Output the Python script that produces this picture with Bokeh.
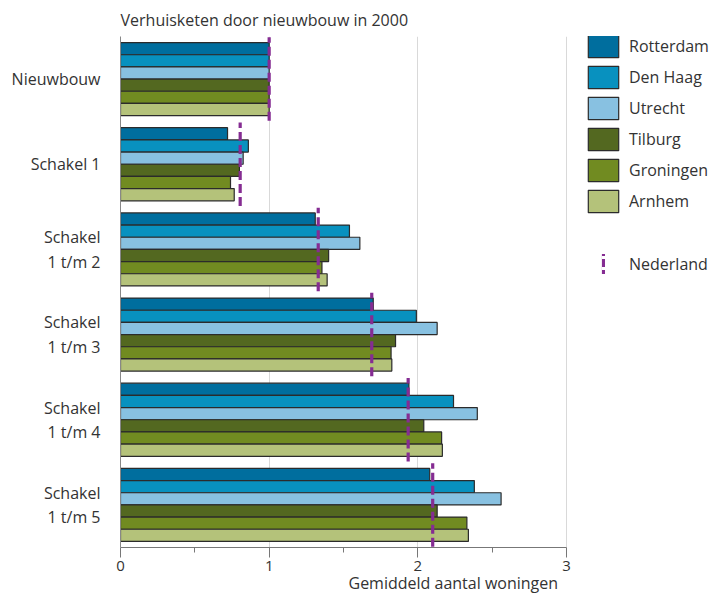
from bokeh.plotting import figure
from bokeh.models import (FactorRange, Range1d, FixedTicker, Legend, LegendItem,
                          Title, ColumnDataSource)
from bokeh.transform import dodge
from bokeh.embed import file_html
from bokeh.resources import INLINE

# ---- data ----
categories = ["Nieuwbouw", "Schakel 1", "Schakel\n1 t/m 2", "Schakel\n1 t/m 3",
              "Schakel\n1 t/m 4", "Schakel\n1 t/m 5"]
cities = ["Rotterdam", "Den Haag", "Utrecht", "Tilburg", "Groningen", "Arnhem"]
rotterdam = [1.0, 0.72, 1.31, 1.70, 1.94, 2.08]
den_haag = [1.0, 0.86, 1.54, 1.99, 2.24, 2.38]
utrecht = [1.0, 0.825, 1.61, 2.13, 2.40, 2.56]
tilburg = [1.0, 0.80, 1.40, 1.85, 2.04, 2.13]
groningen = [1.0, 0.74, 1.355, 1.82, 2.16, 2.33]
arnhem = [1.0, 0.765, 1.39, 1.825, 2.165, 2.34]
nederland = [1.0, 0.805, 1.33, 1.69, 1.935, 2.10]
x_ticks = [0, 1, 2, 3]
x_minor_ticks = [0.5, 1.5, 2.5]
x_max = 3

title_text = "Verhuisketen door nieuwbouw in 2000"
x_label = "Gemiddeld aantal woningen"
ned_label = "Nederland"

colors = ["#006E9E", "#0891BF", "#88C1E1", "#536820", "#718B21", "#B4C27A"]
ned_color = "#852C92"
text_color = "#333333"
FONT = "Open Sans"

# ---- layout constants (pixels) ----
W, H = 712, 596
LEFT, TOP, AXIS_W, FRAME_H = 120, 34, 446, 513
BOTTOM = H - TOP - FRAME_H
# the frame extends right past x=3 so the legend lives inside it
x_end = x_max * (W - LEFT) / AXIS_W

series = [rotterdam, den_haag, utrecht, tilburg, groningen, arnhem]
data = {"cat": categories, "ned": nederland}
keys = ["c%d" % i for i in range(len(cities))]
for k, s in zip(keys, series):
    data[k] = s
source = ColumnDataSource(data)

p = figure(width=W, height=H, output_backend="svg", toolbar_location=None,
           y_range=FactorRange(factors=list(reversed(categories)), range_padding=0),
           x_range=Range1d(0, x_end),
           min_border_left=LEFT, min_border_right=0, min_border_top=TOP,
           min_border_bottom=BOTTOM)
p.outline_line_color = None
p.background_fill_color = "white"

h = 0.143
offsets = [2.5 * h, 1.5 * h, 0.5 * h, -0.5 * h, -1.5 * h, -2.5 * h]
renderers = []
for k, c, off in zip(keys, colors, offsets):
    r = p.hbar(y=dodge("cat", off, range=p.y_range), left=0, right=k, height=h,
               source=source, fill_color=c, line_color="#2b2b2b", line_width=1.2)
    renderers.append(r)

p.segment(x0="ned", x1="ned", y0=dodge("cat", -0.49, range=p.y_range),
          y1=dodge("cat", 0.49, range=p.y_range), source=source,
          line_color=ned_color, line_width=3.2, line_dash="9 4")

# axes
xa = p.xaxis[0]
xa.bounds = (0, x_max)
xa.ticker = FixedTicker(ticks=x_ticks, minor_ticks=x_minor_ticks)
xa.axis_line_color = "#777777"
xa.major_tick_line_color = "#777777"
xa.minor_tick_line_color = "#777777"
xa.major_tick_out = 10
xa.major_tick_in = 0
xa.minor_tick_out = 5
xa.minor_tick_in = 0
xa.major_label_standoff = 3
xa.major_label_text_font = FONT
xa.major_label_text_font_size = "15px"
xa.major_label_text_color = text_color

ya = p.yaxis[0]
ya.axis_line_color = "#888888"
ya.major_tick_line_color = None
ya.minor_tick_line_color = None
ya.major_tick_out = 0
ya.major_label_standoff = 20
ya.major_label_text_font = FONT
ya.major_label_text_font_size = "16px"
ya.major_label_text_color = text_color
ya.major_label_text_line_height = 1.1

p.ygrid.grid_line_color = None
p.xgrid.ticker = FixedTicker(ticks=[1, 2, 3])
p.xgrid.grid_line_color = "#d9d9d9"
p.xgrid.grid_line_width = 1

# titles
p.title.text = title_text
p.title.align = "left"
p.title.text_font = FONT
p.title.text_font_size = "16px"
p.title.text_font_style = "normal"
p.title.text_color = text_color
p.title.standoff = 12

bt = Title(text=x_label, align="left", offset=228, text_font=FONT,
           text_font_size="16px", text_font_style="normal",
           text_color=text_color, standoff=-8)
p.add_layout(bt, "below")

# legends (inside the extended frame)
items = [LegendItem(label=c, renderers=[r]) for c, r in zip(cities, renderers)]
leg = Legend(items=items, location=(464, 332), glyph_width=38, glyph_height=28,
             spacing=3, label_standoff=7, padding=0, margin=0,
             border_line_color=None, background_fill_alpha=0,
             label_text_font=FONT, label_text_font_size="16px",
             label_text_color=text_color)
p.add_layout(leg, "center")

# proxy (zero-size, never visible in the plot) giving the legend its marker
ned_src = ColumnDataSource({"x": [0], "top": [0], "bottom": [0], "w": [0]})
ned_r = p.vbar(x="x", top="top", bottom="bottom", width="w", source=ned_src,
               fill_color=ned_color, line_color=None,
               hatch_pattern="horizontal_line", hatch_color="white",
               hatch_weight=3, hatch_scale=11)
leg2 = Legend(items=[LegendItem(label=ned_label, renderers=[ned_r])],
              location=(481, 271), glyph_width=4, glyph_height=25,
              label_standoff=24, padding=0, margin=0,
              border_line_color=None, background_fill_alpha=0,
              label_text_font=FONT, label_text_font_size="16px",
              label_text_color=text_color)
p.add_layout(leg2, "center")

open("out.html", "w").write(file_html(p, INLINE))
